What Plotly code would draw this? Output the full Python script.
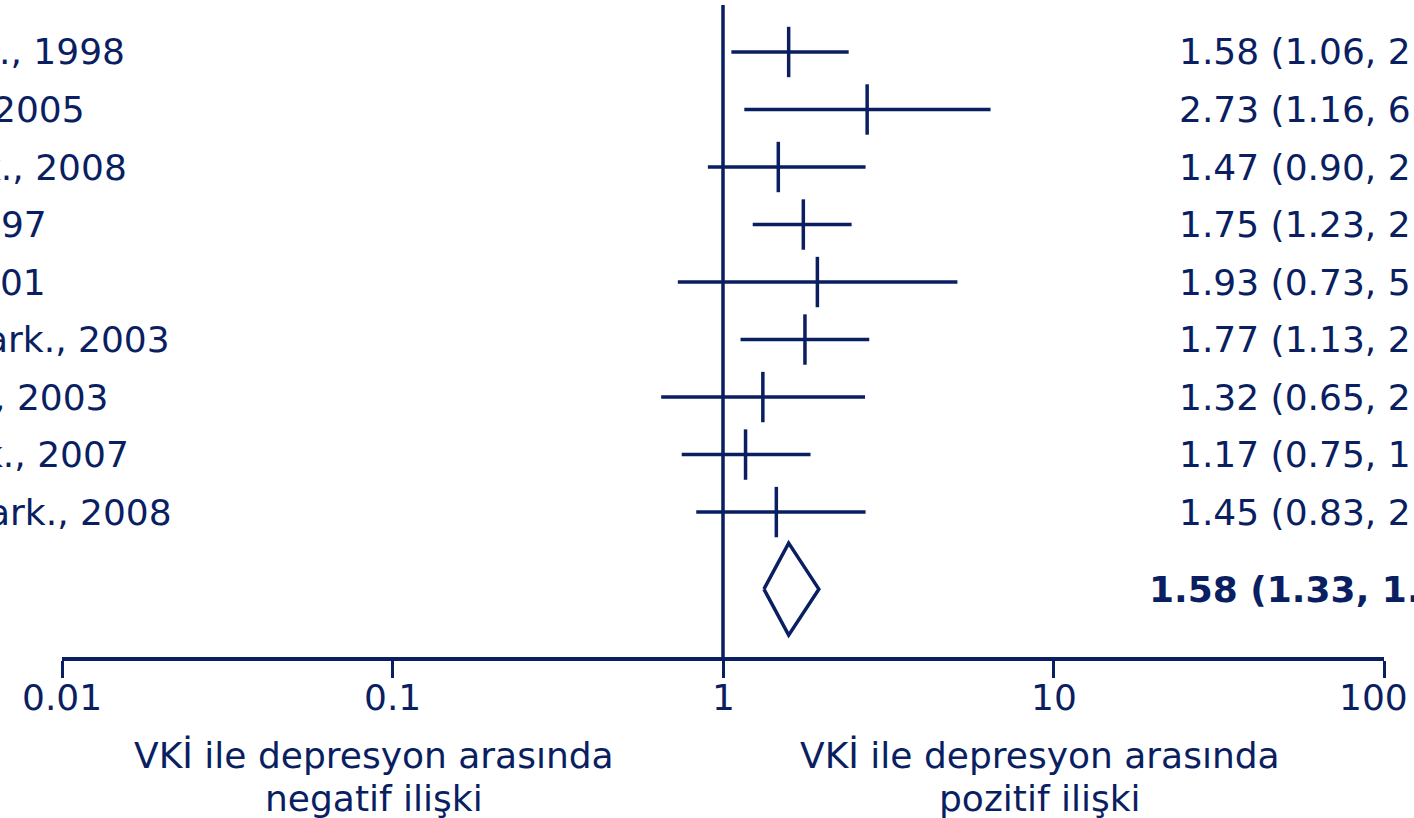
import math
import plotly.graph_objects as go

# Study rows (study label as printed, odds ratio and 95% CI)
study_labels = ["., 1998", "2005", "k., 2008", "997", "001",
                "ark., 2003", ", 2003", "k., 2007", "ark., 2008"]
or_est = [1.58, 2.73, 1.47, 1.75, 1.93, 1.77, 1.32, 1.17, 1.45]
ci_low = [1.06, 1.16, 0.90, 1.23, 0.73, 1.13, 0.65, 0.75, 0.83]
ci_high = [2.40, 6.45, 2.70, 2.45, 5.12, 2.77, 2.69, 1.84, 2.70]

# Pooled estimate
pooled_est = 1.58
pooled_low = 1.33
pooled_high = 1.95

tick_vals = [0.01, 0.1, 1, 10, 100]
tick_text = ["0.01", "0.1", "1", "10", "100"]

note_left = ["VKİ ile depresyon arasında", "negatif ilişki"]
note_right = ["VKİ ile depresyon arasında", "pozitif ilişki"]

NAVY = "#0a1e62"
FONT = "DejaVu Sans, Verdana, sans-serif"
FS = 36

W, H = 1414, 818
ML, MR, MT, MB = 62, 30, 5, 161
PLOT_W = W - ML - MR

# right edge (px) of each clipped study label
label_right_px = [127, 87, 129, 49, 48, 172, 111, 131, 174]

n = len(or_est)
rows = list(range(n))
pooled_row = 9.34
y_top, y_bottom = -0.817, 10.52


def paper_x(px):
    return (px - ML) / PLOT_W


fig = go.Figure()

# reference line at OR = 1
fig.add_trace(go.Scatter(
    x=[1, 1], y=[y_top, y_bottom], mode="lines",
    line=dict(color=NAVY, width=3.5), hoverinfo="skip", cliponaxis=False))

# confidence intervals
ci_x, ci_y = [], []
for i in rows:
    ci_x += [ci_low[i], ci_high[i], None]
    ci_y += [i, i, None]
fig.add_trace(go.Scatter(
    x=ci_x, y=ci_y, mode="lines",
    line=dict(color=NAVY, width=3.5)))

# point estimates
fig.add_trace(go.Scatter(
    x=or_est, y=rows, mode="markers",
    marker=dict(symbol="line-ns", size=36,
                line=dict(color=NAVY, width=3.5))))

# pooled diamond
half_h = 0.8
fig.add_trace(go.Scatter(
    x=[pooled_low, pooled_est, pooled_high, pooled_est, pooled_low],
    y=[pooled_row, pooled_row - half_h, pooled_row, pooled_row + half_h, pooled_row],
    mode="lines", fill="toself", fillcolor="white",
    line=dict(color=NAVY, width=3.5)))

annotations = []
for i in rows:
    annotations.append(dict(
        xref="paper", yref="y", x=paper_x(label_right_px[i]), y=i,
        xanchor="right", yanchor="middle", text=study_labels[i],
        showarrow=False, font=dict(family=FONT, size=FS, color=NAVY)))
    annotations.append(dict(
        xref="paper", yref="y", x=paper_x(1177), y=i,
        xanchor="left", yanchor="middle",
        text=f"{or_est[i]:.2f} ({ci_low[i]:.2f}, {ci_high[i]:.2f})",
        showarrow=False, font=dict(family=FONT, size=FS, color=NAVY)))

annotations.append(dict(
    xref="paper", yref="y", x=paper_x(1147), y=pooled_row,
    xanchor="left", yanchor="middle",
    text=f"<b>{pooled_est:.2f} ({pooled_low:.2f}, {pooled_high:.2f})</b>",
    showarrow=False, font=dict(family=FONT, size=FS, color=NAVY)))

# tick labels under the axis; the last one is kept inside the page
for k, (v, t) in enumerate(zip(tick_vals, tick_text)):
    last = k == len(tick_vals) - 1
    annotations.append(dict(
        xref="x", yref="paper", x=math.log10(v), y=0,
        xanchor="right" if last else "center", xshift=26 if last else 0,
        yanchor="middle", yshift=-40, text=t, showarrow=False,
        font=dict(family=FONT, size=FS, color=NAVY)))

# direction notes below the axis, one annotation per line
for lines, cx in [(note_left, 373.5), (note_right, 1040)]:
    for txt, shift in zip(lines, [-98, -141]):
        annotations.append(dict(
            xref="paper", yref="paper", x=paper_x(cx), y=0,
            xanchor="center", yanchor="middle", yshift=shift,
            text=txt, showarrow=False,
            font=dict(family=FONT, size=FS, color=NAVY)))

fig.update_layout(
    width=W, height=H,
    margin=dict(l=ML, r=MR, t=MT, b=MB, autoexpand=False),
    paper_bgcolor="white", plot_bgcolor="white",
    showlegend=False,
    font=dict(family=FONT, size=FS, color=NAVY),
    xaxis=dict(type="log", range=[-2, 2], tickvals=tick_vals,
               showticklabels=False,
               showgrid=False, zeroline=False, showline=True, automargin=False,
               linecolor=NAVY, linewidth=3.5, ticks="outside", ticklen=17,
               tickwidth=3, tickcolor=NAVY),
    yaxis=dict(range=[y_bottom, y_top], visible=False, showgrid=False,
               zeroline=False),
    annotations=annotations,
)

fig.write_html("out.html")
